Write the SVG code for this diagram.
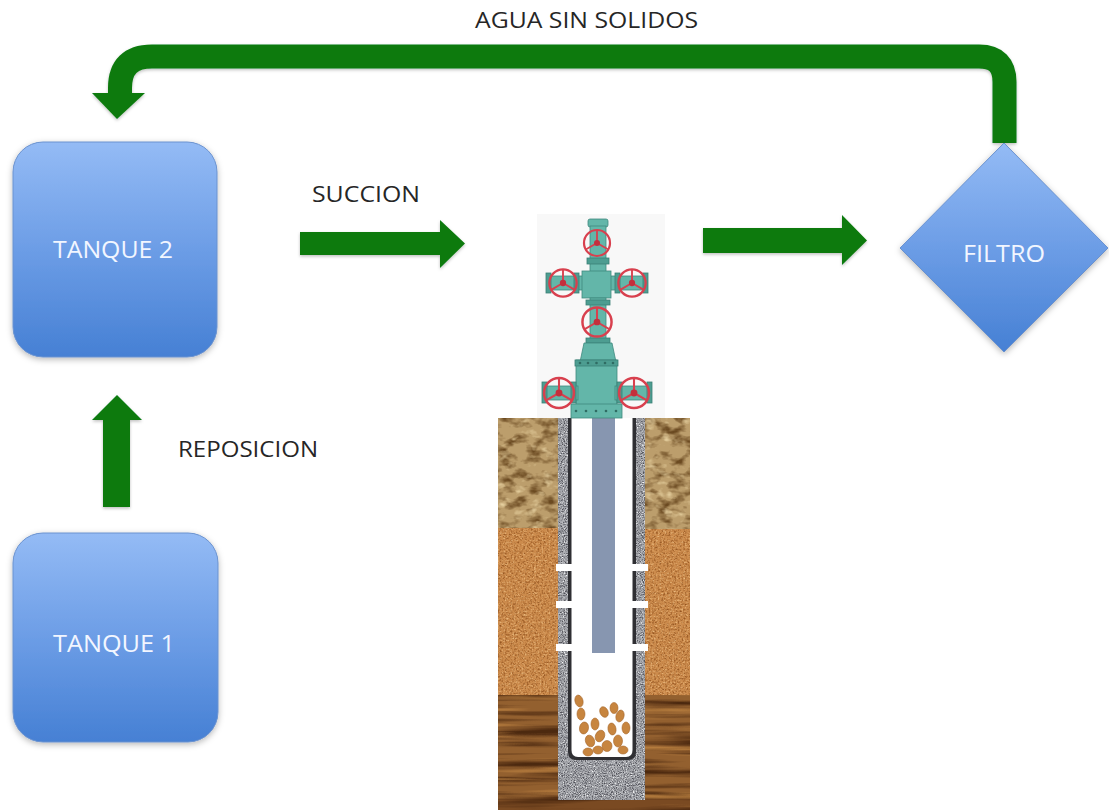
<svg xmlns="http://www.w3.org/2000/svg" xmlns:xlink="http://www.w3.org/1999/xlink" width="1109" height="810" viewBox="0 0 1109 810">
  <defs>
    <style>
      .lbl { font-family: "Open Sans", "Liberation Sans", sans-serif; font-size: 22px; fill: #262626; }
      .nodeTxt { font-family: "Open Sans", "Liberation Sans", sans-serif; font-size: 24px; fill: #f2f6ff; }
      .box { fill: url(#blueGrad); stroke: #6a92cf; stroke-width: 1; filter: url(#soft); }
      .flow { fill: #0a7a10; }
      .pipe { fill: none; stroke: #0a7a10; stroke-width: 24; }
      .teal { fill: #63b6a9; stroke: #3f897e; stroke-width: 0.8; }
      .tealDk { fill: #4d9d91; stroke: #3a7f75; stroke-width: 0.8; }
      .bolt { fill: #2f6c63; }
      .perf { fill: #ffffff; }
      .solid { fill: #c7853f; stroke: #a7672a; stroke-width: 0.6; }
    </style>
    <linearGradient id="blueGrad" x1="0" y1="0" x2="0" y2="1">
      <stop offset="0" stop-color="#94bbf5"/>
      <stop offset="0.5" stop-color="#6c9de6"/>
      <stop offset="1" stop-color="#4680d4"/>
    </linearGradient>
    <filter id="soft" x="-10%" y="-10%" width="125%" height="125%">
      <feDropShadow dx="0" dy="2" stdDeviation="3" flood-color="#000" flood-opacity="0.28"/>
    </filter>
    <filter id="arrowShadow" x="-10%" y="-20%" width="130%" height="150%">
      <feDropShadow dx="0" dy="1.5" stdDeviation="1.5" flood-color="#000" flood-opacity="0.25"/>
    </filter>
    <!-- ground textures -->
    <filter id="texRock" x="0" y="0" width="1" height="1" color-interpolation-filters="sRGB">
      <feTurbulence type="fractalNoise" baseFrequency="0.07 0.11" numOctaves="3" seed="7" result="n"/>
      <feColorMatrix in="n" type="matrix" values="0 0 0 0 0.42  0 0 0 0 0.29  0 0 0 0 0.13  3 0 0 0 -1.35" result="dark"/>
      <feColorMatrix in="n" type="matrix" values="0 0 0 0 0.93  0 0 0 0 0.85  0 0 0 0 0.66  0 -3 0 0 1.25" result="light"/>
      <feMerge result="m"><feMergeNode in="SourceGraphic"/><feMergeNode in="dark"/><feMergeNode in="light"/></feMerge>
      <feComposite in="m" in2="SourceGraphic" operator="in"/>
    </filter>
    <filter id="texSand" x="0" y="0" width="1" height="1" color-interpolation-filters="sRGB">
      <feTurbulence type="fractalNoise" baseFrequency="0.55" numOctaves="2" seed="3" result="n"/>
      <feColorMatrix in="n" type="matrix" values="0 0 0 0 0.55  0 0 0 0 0.3  0 0 0 0 0.1  2.2 0 0 0 -1.0" result="dark"/>
      <feColorMatrix in="n" type="matrix" values="0 0 0 0 0.95  0 0 0 0 0.78  0 0 0 0 0.55  0 -2.2 0 0 1.05" result="light"/>
      <feMerge result="m"><feMergeNode in="SourceGraphic"/><feMergeNode in="dark"/><feMergeNode in="light"/></feMerge>
      <feComposite in="m" in2="SourceGraphic" operator="in"/>
    </filter>
    <filter id="texStrata" x="0" y="0" width="1" height="1" color-interpolation-filters="sRGB">
      <feTurbulence type="fractalNoise" baseFrequency="0.006 0.13" numOctaves="3" seed="11" result="n"/>
      <feColorMatrix in="n" type="matrix" values="0 0 0 0 0.3  0 0 0 0 0.16  0 0 0 0 0.06  3 0 0 0 -1.3" result="dark"/>
      <feColorMatrix in="n" type="matrix" values="0 0 0 0 0.8  0 0 0 0 0.56  0 0 0 0 0.28  0 -3 0 0 1.35" result="light"/>
      <feMerge result="m"><feMergeNode in="SourceGraphic"/><feMergeNode in="dark"/><feMergeNode in="light"/></feMerge>
      <feComposite in="m" in2="SourceGraphic" operator="in"/>
    </filter>
    <filter id="texGravel" x="0" y="0" width="1" height="1" color-interpolation-filters="sRGB">
      <feTurbulence type="fractalNoise" baseFrequency="0.9" numOctaves="2" seed="5" result="n"/>
      <feColorMatrix in="n" type="matrix" values="0 0 0 0 0.3  0 0 0 0 0.3  0 0 0 0 0.33  3 0 0 0 -1.3" result="dark"/>
      <feColorMatrix in="n" type="matrix" values="0 0 0 0 1  0 0 0 0 1  0 0 0 0 1  0 -3 0 0 1.35" result="light"/>
      <feMerge result="m"><feMergeNode in="SourceGraphic"/><feMergeNode in="dark"/><feMergeNode in="light"/></feMerge>
      <feComposite in="m" in2="SourceGraphic" operator="in"/>
    </filter>
    <!-- hand wheel of a gate valve -->
    <g id="wheel">
      <circle r="13" fill="none" stroke="#d8404e" stroke-width="2.2"/>
      <path d="M0 0 L0 -13 M0 0 L11.3 6.5 M0 0 L-11.3 6.5" stroke="#d8404e" stroke-width="1.8" fill="none"/>
      <circle r="3" fill="#c42f3c"/>
    </g>
  </defs>

  <rect width="1109" height="810" fill="#ffffff"/>

  <!-- flow arrows -->
  <g id="connectors" filter="url(#arrowShadow)">
    <path class="pipe" d="M1004.5 143 V82 Q1004.5 56.5 979 56.5 H152 Q120 56.5 120 88 V95"/>
    <polygon class="flow" points="92,93 145,93 117,119"/>
    <polygon class="flow" points="300,232 440,232 440,220 465,243.5 440,268 440,255 300,255"/>
    <polygon class="flow" points="703,228 842,228 842,215 867,240.5 842,265 842,253 703,253"/>
    <polygon class="flow" points="117,395 142,420 130,420 130,507 103,507 103,420 92,420"/>
  </g>

  <!-- flow labels -->
  <g id="labels">
    <text class="lbl" x="475" y="28" textLength="223" lengthAdjust="spacingAndGlyphs">AGUA SIN SOLIDOS</text>
    <text class="lbl" x="312" y="202" textLength="108" lengthAdjust="spacingAndGlyphs">SUCCION</text>
    <text class="lbl" x="178" y="457" textLength="140" lengthAdjust="spacingAndGlyphs">REPOSICION</text>
  </g>

  <g id="tanque2">
    <rect class="box" x="13" y="142" width="204" height="215" rx="30"/>
    <text class="nodeTxt" x="53" y="258" textLength="120" lengthAdjust="spacingAndGlyphs">TANQUE 2</text>
  </g>

  <g id="tanque1">
    <rect class="box" x="13" y="533" width="205" height="209" rx="30"/>
    <text class="nodeTxt" x="53" y="652" textLength="122" lengthAdjust="spacingAndGlyphs">TANQUE 1</text>
  </g>

  <g id="filtro">
    <polygon class="box" points="1004,143 1108,248 1004,352 900,248"/>
    <text class="nodeTxt" x="963" y="262" textLength="82" lengthAdjust="spacingAndGlyphs">FILTRO</text>
  </g>

  <!-- well bore cross-section -->
  <g id="pozo">
    <!-- formations -->
    <rect x="498" y="418" width="60" height="111" fill="#bc9e6c" filter="url(#texRock)"/>
    <rect x="645" y="418" width="45" height="112" fill="#bc9e6c" filter="url(#texRock)"/>
    <rect x="498" y="528" width="60" height="168" fill="#cc8b4c" filter="url(#texSand)"/>
    <rect x="645" y="529" width="45" height="167" fill="#cc8b4c" filter="url(#texSand)"/>
    <rect x="498" y="695" width="60" height="105" fill="#93602f" filter="url(#texStrata)"/>
    <rect x="645" y="695" width="45" height="105" fill="#93602f" filter="url(#texStrata)"/>
    <rect x="498" y="799" width="192" height="11" fill="#7a4a22" filter="url(#texStrata)"/>
    <!-- gravel pack -->
    <rect x="558" y="418" width="87" height="382" fill="#a7a9ae" filter="url(#texGravel)"/>
    <!-- casing -->
    <path d="M568 418 V752 Q568 760 576 760 H628 Q636 760 636 752 V418 Z" fill="#2f2f33"/>
    <path d="M571.5 418 V750 Q571.5 757 578 757 H626 Q632.5 757 632.5 750 V418 Z" fill="#ffffff"/>
    <!-- perforations -->
    <rect class="perf" x="556" y="564" width="16" height="7"/>
    <rect class="perf" x="632" y="564" width="16" height="7"/>
    <rect class="perf" x="556" y="601" width="16" height="7"/>
    <rect class="perf" x="632" y="601" width="16" height="7"/>
    <rect class="perf" x="556" y="644" width="16" height="7"/>
    <rect class="perf" x="632" y="644" width="16" height="7"/>
    <!-- tubing -->
    <rect x="592" y="418" width="23" height="235" fill="#8796b0"/>
    <!-- settled solids -->
    <g>
      <ellipse class="solid" cx="579" cy="701" rx="4" ry="6" transform="rotate(-15 579 701)"/>
      <ellipse class="solid" cx="581" cy="714" rx="4" ry="6"/>
      <ellipse class="solid" cx="584" cy="728" rx="4.5" ry="6" transform="rotate(10 584 728)"/>
      <ellipse class="solid" cx="590" cy="741" rx="4.5" ry="6" transform="rotate(-20 590 741)"/>
      <ellipse class="solid" cx="595" cy="724" rx="4" ry="6"/>
      <ellipse class="solid" cx="600" cy="736" rx="4.5" ry="6" transform="rotate(25 600 736)"/>
      <ellipse class="solid" cx="607" cy="746" rx="5" ry="5.5"/>
      <ellipse class="solid" cx="612" cy="729" rx="4" ry="6" transform="rotate(-10 612 729)"/>
      <ellipse class="solid" cx="618" cy="741" rx="4.5" ry="6"/>
      <ellipse class="solid" cx="620" cy="716" rx="4" ry="6" transform="rotate(15 620 716)"/>
      <ellipse class="solid" cx="626" cy="728" rx="4" ry="6"/>
      <ellipse class="solid" cx="604" cy="712" rx="4" ry="5.5" transform="rotate(-25 604 712)"/>
      <ellipse class="solid" cx="614" cy="708" rx="4" ry="5.5"/>
      <ellipse class="solid" cx="588" cy="752" rx="5" ry="4"/>
      <ellipse class="solid" cx="598" cy="750" rx="5" ry="4"/>
      <ellipse class="solid" cx="623" cy="750" rx="5" ry="4"/>
    </g>
  </g>

  <!-- christmas tree wellhead -->
  <g id="cabezal">
    <rect x="537" y="214" width="128" height="204" fill="#f8f8f8"/>
    <!-- upper master column -->
    <rect class="teal" x="588" y="219" width="20" height="8" rx="2"/>
    <rect class="teal" x="590" y="226" width="16" height="50"/>
    <rect class="tealDk" x="587" y="258" width="22" height="6"/>
    <use href="#wheel" x="597" y="243"/>
    <!-- cross block with wing valves -->
    <rect class="teal" x="548" y="276" width="36" height="14"/>
    <rect class="tealDk" x="546" y="273" width="5" height="20"/>
    <rect class="tealDk" x="574" y="273" width="5" height="20"/>
    <rect class="teal" x="610" y="276" width="37" height="14"/>
    <rect class="tealDk" x="615" y="273" width="5" height="20"/>
    <rect class="tealDk" x="643" y="273" width="5" height="20"/>
    <rect class="teal" x="582" y="271" width="29" height="27"/>
    <use href="#wheel" x="563" y="283" transform="translate(563 283) scale(1.05) translate(-563 -283)"/>
    <use href="#wheel" x="632" y="283" transform="translate(632 283) scale(1.05) translate(-632 -283)"/>
    <!-- lower master valve -->
    <rect class="teal" x="590" y="298" width="16" height="50"/>
    <rect class="tealDk" x="586" y="300" width="24" height="5"/>
    <rect class="tealDk" x="586" y="338" width="24" height="5"/>
    <use href="#wheel" x="597" y="322" transform="translate(597 322) scale(1.12) translate(-597 -322)"/>
    <!-- tubing head and casing head -->
    <path class="teal" d="M584 343 H612 L616 362 H580 Z"/>
    <rect class="teal" x="576" y="360" width="41" height="45"/>
    <rect class="tealDk" x="575" y="360" width="43" height="6"/>
    <circle class="bolt" cx="580" cy="363" r="1.3"/>
    <circle class="bolt" cx="588" cy="363" r="1.3"/>
    <circle class="bolt" cx="596.5" cy="363" r="1.3"/>
    <circle class="bolt" cx="605" cy="363" r="1.3"/>
    <circle class="bolt" cx="613" cy="363" r="1.3"/>
    <rect class="teal" x="544" y="386" width="34" height="14"/>
    <rect class="tealDk" x="542" y="382" width="5" height="21"/>
    <rect class="tealDk" x="571" y="382" width="5" height="21"/>
    <rect class="teal" x="615" y="386" width="36" height="14"/>
    <rect class="tealDk" x="617" y="382" width="5" height="21"/>
    <rect class="tealDk" x="647" y="382" width="5" height="21"/>
    <rect class="teal" x="571" y="404" width="51" height="14"/>
    <circle class="bolt" cx="576" cy="411" r="1.3"/>
    <circle class="bolt" cx="586" cy="411" r="1.3"/>
    <circle class="bolt" cx="596" cy="411" r="1.3"/>
    <circle class="bolt" cx="606" cy="411" r="1.3"/>
    <circle class="bolt" cx="616" cy="411" r="1.3"/>
    <use href="#wheel" x="559" y="393" transform="translate(559 393) scale(1.15) translate(-559 -393)"/>
    <use href="#wheel" x="634" y="393" transform="translate(634 393) scale(1.15) translate(-634 -393)"/>
  </g>
</svg>
